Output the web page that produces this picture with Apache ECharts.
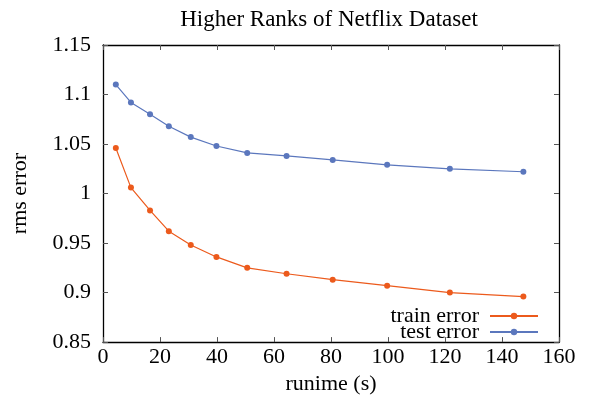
<!DOCTYPE html>
<html>
<head>
<meta charset="utf-8">
<script src="https://cdn.jsdelivr.net/npm/echarts@6/dist/echarts.min.js"></script>
<style>
  html, body { margin: 0; padding: 0; background: #fff; }
  #main { width: 590px; height: 400px; }
</style>
</head>
<body>
<div id="main"></div>
<script>
// runtime (s) of each run
var runtime = [4.5, 9.8, 16.5, 23.1, 30.8, 39.8, 50.6, 64.4, 80.6, 99.7, 121.7, 147.5];
var trainError = [1.046, 1.006, 0.983, 0.962, 0.948, 0.936, 0.925, 0.919, 0.913, 0.907, 0.900, 0.896];
var testError = [1.110, 1.092, 1.080, 1.068, 1.057, 1.048, 1.041, 1.038, 1.034, 1.029, 1.025, 1.022];

var FONT = 'Liberation Serif';

function pairs(xs, ys) {
	var out = [];
	for (var i = 0; i < xs.length; i++) {
		out.push([xs[i], ys[i]]);
	}
	return out;
}

var myChart = echarts.init(document.getElementById('main'));

// mirror axes: ticks inward on all four sides
var tickIn = { show: true, inside: true, length: 5, lineStyle: { color: '#555' } };
var boxLine = { show: true, onZero: false, lineStyle: { color: '#000', width: 1.3 } };

option = {
	animation: false,
	textStyle: { fontFamily: FONT },
	title: {
		text: 'Higher Ranks of Netflix Dataset',
		left: 324,
		top: 3,
		textAlign: 'center',
		textStyle: { fontFamily: FONT, fontSize: 23, fontWeight: 'normal', color: '#000' }
	},
	grid: {
		left: 103,
		right: 31,
		top: 45,
		bottom: 52
	},
	legend: {
		orient: 'vertical',
		right: 46,
		top: 300,
		align: 'right',
		itemWidth: 48,
		itemHeight: 8,
		itemGap: -6,
		textStyle: { fontFamily: FONT, fontSize: 22, color: '#000', padding: [0, 6, 0, 0] },
		data: ['train error', 'test error']
	},
	xAxis: [{
		type: 'value',
		min: 0,
		max: 160,
		interval: 20,
		name: 'runime (s)',
		nameLocation: 'middle',
		nameGap: 26,
		nameTextStyle: { fontFamily: FONT, fontSize: 22, color: '#000' },
		axisLine: boxLine,
		axisTick: tickIn,
		splitLine: { show: false },
		axisLabel: { fontFamily: FONT, fontSize: 22, color: '#000', margin: 4 }
	}, {
		type: 'value',
		position: 'top',
		min: 0,
		max: 160,
		interval: 20,
		axisLine: boxLine,
		axisTick: tickIn,
		splitLine: { show: false },
		axisLabel: { show: false }
	}],
	yAxis: [{
		type: 'value',
		min: 0.85,
		max: 1.15,
		interval: 0.05,
		name: 'rms error',
		nameLocation: 'middle',
		nameGap: 72,
		nameTextStyle: { fontFamily: FONT, fontSize: 22, color: '#000' },
		axisLine: boxLine,
		axisTick: tickIn,
		splitLine: { show: false },
		axisLabel: {
			fontFamily: FONT, fontSize: 22, color: '#000', margin: 12,
			formatter: function (v) { return String(parseFloat(v.toFixed(2))); }
		}
	}, {
		type: 'value',
		position: 'right',
		min: 0.85,
		max: 1.15,
		interval: 0.05,
		axisLine: boxLine,
		axisTick: tickIn,
		splitLine: { show: false },
		axisLabel: { show: false }
	}],
	series: [{
		name: 'train error',
		type: 'line',
		data: pairs(runtime, trainError),
		symbol: 'circle',
		symbolSize: 6,
		itemStyle: { color: '#ec5a1c' },
		lineStyle: { width: 1.2, color: '#ec5a1c' }
	}, {
		name: 'test error',
		type: 'line',
		data: pairs(runtime, testError),
		symbol: 'circle',
		symbolSize: 6,
		itemStyle: { color: '#5b77bd' },
		lineStyle: { width: 1.2, color: '#5b77bd' }
	}]
};

myChart.setOption(option);
</script>
</body>
</html>
